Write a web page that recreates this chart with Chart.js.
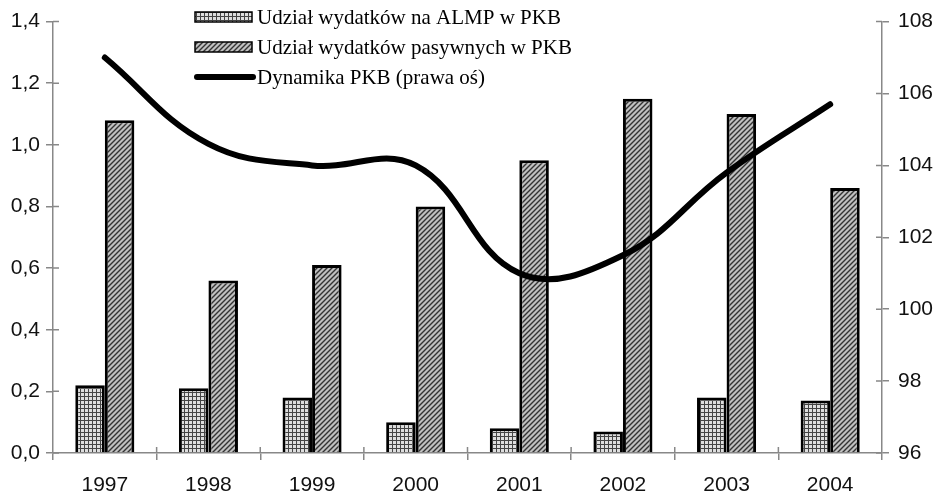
<!DOCTYPE html>
<html>

<head>
    <meta charset="utf-8">
    <title>Wydatki na rynek pracy a dynamika PKB</title>
    <script src="https://cdn.jsdelivr.net/npm/chart.js"></script>
    <style>
        html, body { margin: 0; padding: 0; background: #fff; }
    </style>
</head>

<body>
    <canvas id="myChart" width="936" height="495"></canvas>

    <script>
        var years = ['1997', '1998', '1999', '2000', '2001', '2002', '2003', '2004'];
        var almpShare = [0.22, 0.21, 0.18, 0.10, 0.08, 0.07, 0.18, 0.17];
        var passiveShare = [1.08, 0.56, 0.61, 0.80, 0.95, 1.15, 1.10, 0.86];
        var gdpDynamics = [107.0, 104.6, 104.0, 104.0, 101.0, 101.5, 103.8, 105.7];

        var legendLabels = ['Udział wydatków na ALMP w PKB', 'Udział wydatków pasywnych w PKB', 'Dynamika PKB (prawa oś)'];

        // small grid pattern for ALMP bars
        function gridPattern() {
            var c = document.createElement('canvas');
            c.width = 4; c.height = 4;
            var g = c.getContext('2d');
            g.fillStyle = '#dedede';
            g.fillRect(0, 0, 4, 4);
            g.fillStyle = '#444';
            g.fillRect(0, 0, 4, 1);
            g.fillRect(0, 0, 1, 4);
            return g.createPattern(c, 'repeat');
        }

        // diagonal hatch for passive bars
        function hatchPattern() {
            var c = document.createElement('canvas');
            c.width = 5; c.height = 5;
            var g = c.getContext('2d');
            g.fillStyle = '#c0c0c0';
            g.fillRect(0, 0, 5, 5);
            g.strokeStyle = '#333';
            g.lineWidth = 1.4;
            g.beginPath();
            g.moveTo(0, 5); g.lineTo(5, 0);
            g.moveTo(-1, 1); g.lineTo(1, -1);
            g.moveTo(4, 6); g.lineTo(6, 4);
            g.stroke();
            return g.createPattern(c, 'repeat');
        }

        // legend drawn inside the plot, as in the original figure
        var insideLegend = {
            id: 'insideLegend',
            afterDraw: function (chart) {
                var ctx = chart.ctx;
                var x = 195, y0 = 17, step = 30;
                ctx.save();
                ctx.font = '21px "Liberation Serif", "Times New Roman", serif';
                ctx.textBaseline = 'middle';
                var ds = chart.data.datasets;
                // bars first (datasets 1 and 2), then the line
                [1, 2, 0].forEach(function (idx, row) {
                    var d = ds[idx];
                    var y = y0 + row * step;
                    if (d.type === 'line') {
                        ctx.strokeStyle = '#000';
                        ctx.lineWidth = 6;
                        ctx.lineCap = 'round';
                        ctx.beginPath();
                        ctx.moveTo(x + 2, y);
                        ctx.lineTo(x + 58, y);
                        ctx.stroke();
                    } else {
                        ctx.fillStyle = d.backgroundColor;
                        ctx.fillRect(x, y - 5, 57, 10);
                        ctx.strokeStyle = '#000';
                        ctx.lineWidth = 1.5;
                        ctx.strokeRect(x, y - 5, 57, 10);
                    }
                    ctx.fillStyle = '#000';
                    ctx.fillText(d.label, x + 62, y + 1);
                });
                ctx.restore();
            }
        };

        // tick marks in the original cross the axis line, draw the inner half
        var innerTicks = {
            id: 'innerTicks',
            afterDraw: function (chart) {
                var ctx = chart.ctx;
                var area = chart.chartArea;
                var len = 6;
                ctx.save();
                ctx.strokeStyle = '#888';
                ctx.lineWidth = 1.5;
                ctx.beginPath();
                chart.scales.y.ticks.forEach(function (t, i) {
                    var py = chart.scales.y.getPixelForTick(i);
                    ctx.moveTo(area.left, py); ctx.lineTo(area.left + len, py);
                });
                chart.scales.y1.ticks.forEach(function (t, i) {
                    var py = chart.scales.y1.getPixelForTick(i);
                    ctx.moveTo(area.right, py); ctx.lineTo(area.right - len, py);
                });
                var xs = chart.scales.x;
                for (var i = 1; i < xs.ticks.length; i++) {
                    var px = (xs.getPixelForTick(i - 1) + xs.getPixelForTick(i)) / 2;
                    ctx.moveTo(px, area.bottom); ctx.lineTo(px, area.bottom - len);
                }
                ctx.stroke();
                ctx.restore();
            }
        };

        var tickFont = { family: '"Liberation Sans", Arial, sans-serif', size: 21 };

        var ctx = document.getElementById('myChart').getContext('2d');

        var myChart = new Chart(ctx, {
            type: 'bar',
            data: {
                labels: years,
                datasets: [
                    {
                        type: 'line',
                        label: legendLabels[2],
                        data: gdpDynamics,
                        yAxisID: 'y1',
                        borderColor: '#000',
                        borderWidth: 6,
                        borderCapStyle: 'round',
                        pointRadius: 0,
                        tension: 0.4,
                        order: 0
                    },
                    {
                        label: legendLabels[0],
                        data: almpShare,
                        yAxisID: 'y',
                        backgroundColor: gridPattern(),
                        borderColor: '#000',
                        borderWidth: 3,
                        order: 1
                    },
                    {
                        label: legendLabels[1],
                        data: passiveShare,
                        yAxisID: 'y',
                        backgroundColor: hatchPattern(),
                        borderColor: '#000',
                        borderWidth: 3,
                        order: 1
                    }]
            },
            options: {
                responsive: false,
                animation: false,
                layout: { padding: { top: 18, left: 0, right: 0, bottom: 0 } },
                datasets: {
                    bar: { categoryPercentage: 0.57, barPercentage: 1.0 }
                },
                plugins: {
                    legend: { display: false },
                    tooltip: { enabled: false }
                },
                scales: {
                    x: {
                        grid: { offset: true, drawOnChartArea: false, tickLength: 7, color: '#888', lineWidth: 1.5 },
                        border: { color: '#888', width: 1.5 },
                        ticks: { font: tickFont, color: '#111', padding: 13 },
                        afterFit: function (scale) { scale.height = 42; }
                    },
                    y: {
                        position: 'left',
                        min: 0,
                        max: 1.4,
                        ticks: {
                            stepSize: 0.2,
                            font: tickFont,
                            color: '#111',
                            padding: 6,
                            callback: function (v) { return v.toFixed(1).replace('.', ','); }
                        },
                        grid: { drawOnChartArea: false, tickLength: 7, color: '#888', lineWidth: 1.5 },
                        border: { color: '#888', width: 1.5 },
                        afterFit: function (scale) { scale.width = 53; }
                    },
                    y1: {
                        position: 'right',
                        min: 96,
                        max: 108,
                        ticks: { stepSize: 2, font: tickFont, color: '#111', padding: 9 },
                        grid: { drawOnChartArea: false, tickLength: 7, color: '#888', lineWidth: 1.5 },
                        border: { color: '#888', width: 1.5 },
                        afterFit: function (scale) { scale.width = 54; }
                    }
                }
            },
            plugins: [innerTicks, insideLegend]
        });
    </script>

</body>

</html>
